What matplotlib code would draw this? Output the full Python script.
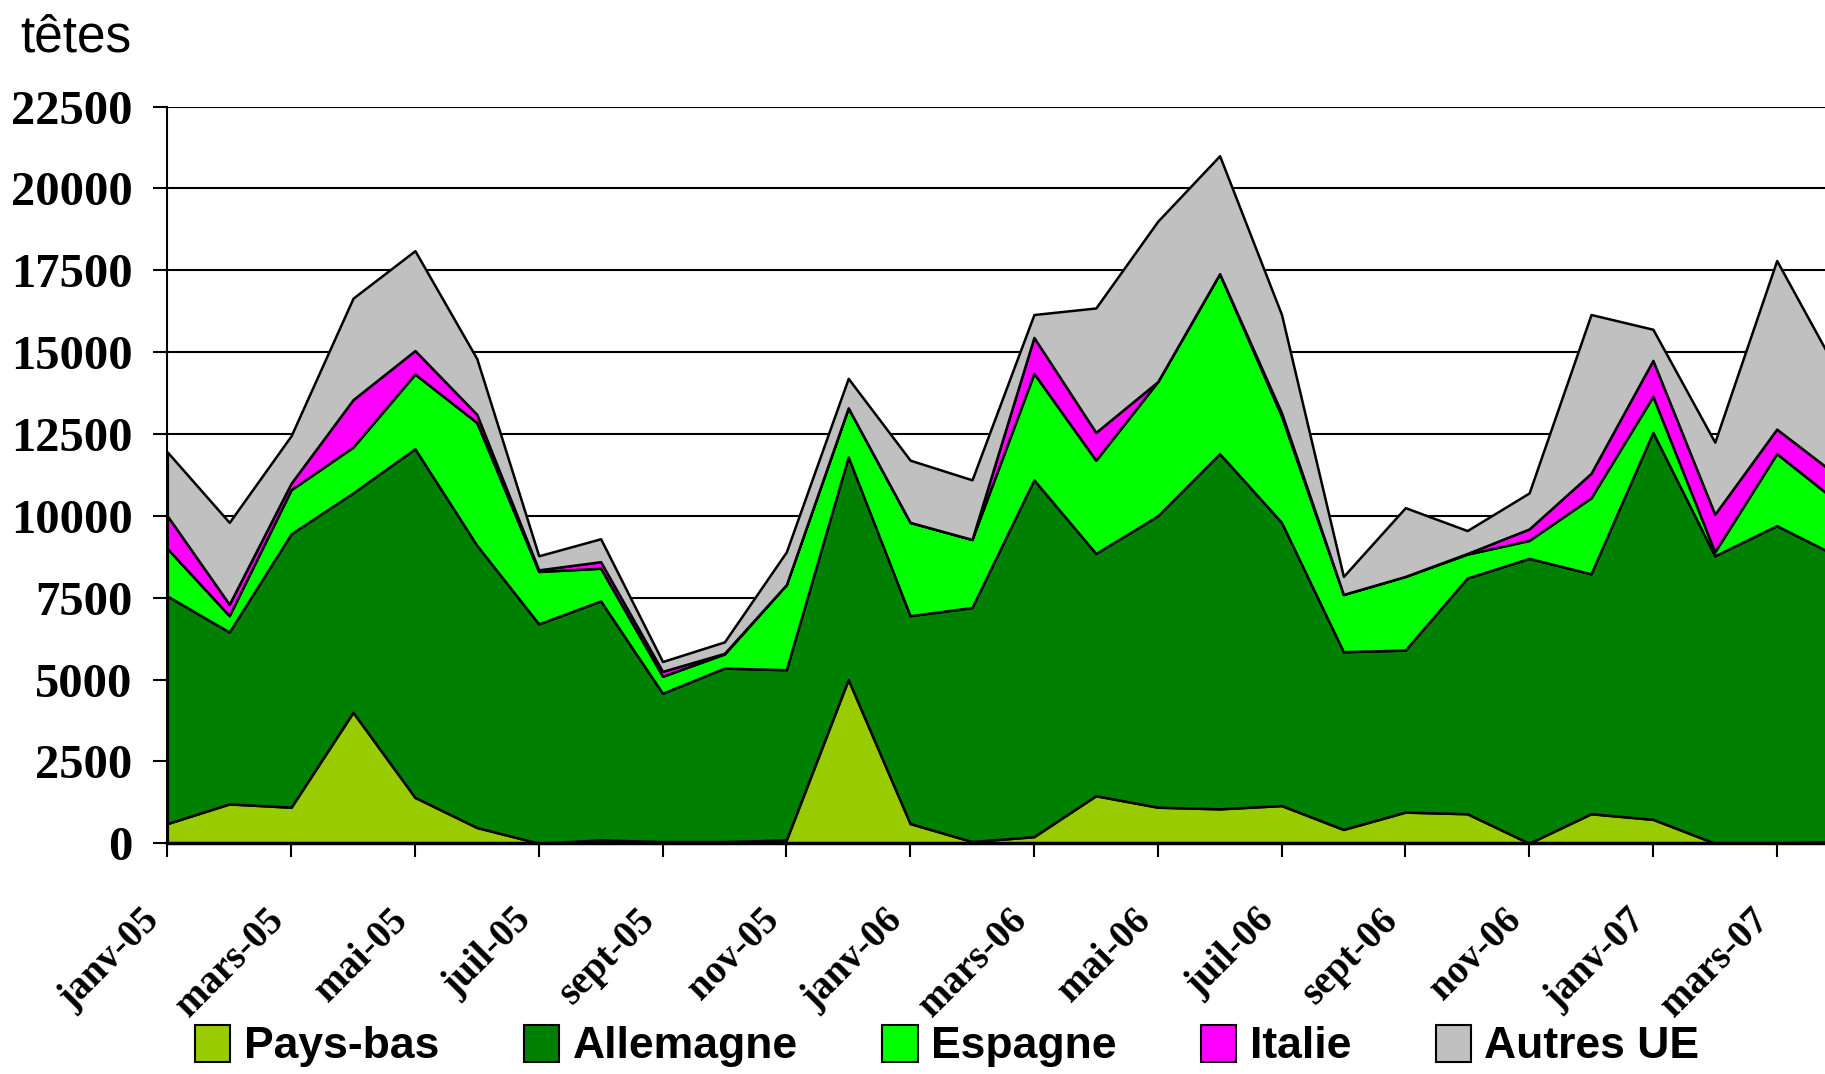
import numpy as np
import matplotlib
matplotlib.use("Agg")
import matplotlib.pyplot as plt
import matplotlib.transforms as mtransforms
from matplotlib.patches import Patch

# monthly imports, janv-05 .. avr-07 (last month partly outside the frame)
pays_bas = [600, 1200, 1100, 4000, 1400, 480, 0, 100, 50, 50, 100, 5000, 600, 50,
            200, 1450, 1100, 1050, 1150, 420, 950, 900, 0, 900, 730, 0, 0, 60]
allemagne = [6950, 5250, 8350, 6700, 10650, 8620, 6700, 7300, 4530, 5300, 5200, 6800, 6350, 7150,
             10900, 7400, 8900, 10850, 8650, 5430, 4950, 7200, 8700, 7330, 11820, 8780, 9700, 8690]
espagne = [1450, 500, 1350, 1400, 2280, 3750, 1600, 1000, 520, 430, 2600, 1500, 2850, 2080,
           3250, 2850, 4100, 5500, 3250, 1750, 2250, 730, 550, 2320, 1100, 120, 2200, 1650]
italie = [1000, 350, 200, 1450, 720, 250, 50, 200, 150, 20, 0, 0, 0, 0,
          1100, 850, 0, 0, 100, 0, 0, 20, 350, 750, 1100, 1150, 750, 800]
autres_ue = [1950, 2500, 1450, 3100, 3050, 1700, 430, 700, 300, 350, 1000, 900, 1900, 1820,
             700, 3800, 4900, 3600, 3000, 550, 2100, 700, 1100, 4850, 950, 2200, 5150, 3150]

series_names = ["Pays-bas", "Allemagne", "Espagne", "Italie", "Autres UE"]
colors = ["#99CC00", "#008000", "#00FF00", "#FF00FF", "#C0C0C0"]

tick_labels = ["janv-05", "mars-05", "mai-05", "juil-05", "sept-05", "nov-05",
               "janv-06", "mars-06", "mai-06", "juil-06", "sept-06", "nov-06",
               "janv-07", "mars-07"]

x = np.arange(len(pays_bas))

fig = plt.figure(figsize=(18.25, 10.74), dpi=100)
ax = fig.add_axes([0.0917, 0.2149, 1 - 0.0917, 0.9007 - 0.2149])

ax.stackplot(x, pays_bas, allemagne, espagne, italie, autres_ue,
             colors=colors, edgecolor="black", linewidth=1.8)

ax.set_xlim(0, (1825 - 167.3) / 61.9)
ax.set_ylim(0, 22500)
ax.set_yticks(np.arange(0, 22501, 2500))
ax.yaxis.grid(True, color="black", linewidth=1.5)
ax.set_axisbelow(True)

for s in ["top", "right"]:
    ax.spines[s].set_visible(False)
ax.spines["left"].set_linewidth(1.5)
ax.spines["bottom"].set_linewidth(2.5)

ax.set_yticklabels([str(v) for v in range(0, 22501, 2500)],
                   fontdict={"family": "Liberation Serif", "weight": "bold", "size": 35})
ax.tick_params(axis="y", length=10, width=1.5, pad=15, direction="out")

ax.set_xticks(np.arange(0, 27, 2))
ax.set_xticklabels(tick_labels,
                   fontdict={"family": "Liberation Serif", "weight": "bold", "size": 28},
                   rotation=45, ha="right", va="top", rotation_mode="anchor")
ax.tick_params(axis="x", length=10, width=1.5, pad=12, direction="out")
shift = mtransforms.ScaledTranslation(-0.26, -0.28, fig.dpi_scale_trans)
for lab in ax.get_xticklabels():
    lab.set_transform(lab.get_transform() + shift)

fig.text(0.011, 0.952, "têtes", family="Liberation Sans", size=37, va="baseline")

handles = [Patch(facecolor=c, edgecolor="black", linewidth=1.5) for c in colors]
fig.legend(handles, series_names, loc="center", bbox_to_anchor=(0.519, 0.026),
           ncol=5, frameon=False, handlelength=0.8, handleheight=0.9,
           handletextpad=0.3, columnspacing=1.9,
           prop={"family": "Liberation Sans", "weight": "bold", "size": 32})

fig.savefig("out.png", dpi=100)
